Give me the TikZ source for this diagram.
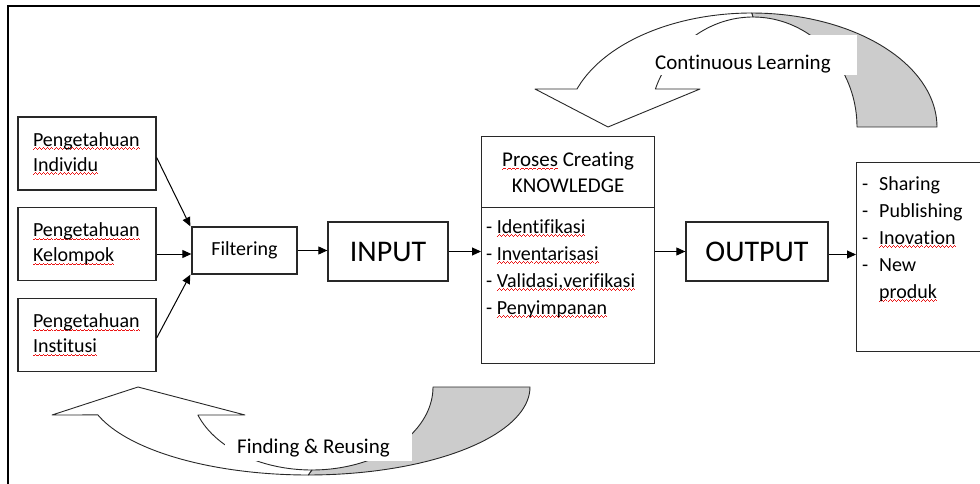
\documentclass[tikz,border=0pt]{standalone}
\usepackage{fontspec}
\setmainfont{Carlito}[Ligatures=NoCommon]
\usetikzlibrary{arrows.meta}
\newsavebox\sqbox
\newcommand\sqseg{\vrule width1pt height0.7pt depth0pt}
\newcommand\wavebit{\hbox{\sqseg\raise0.8pt\hbox{\sqseg}\raise1.6pt\hbox{\sqseg}\raise0.8pt\hbox{\sqseg}}}
\newcommand\sq[1]{\leavevmode\sbox\sqbox{#1}\rlap{\lower3.5pt\hbox to\wd\sqbox{\color{wave}\xleaders\wavebit\hfil}}\usebox\sqbox}
\definecolor{shade}{RGB}{204,204,204}
\definecolor{ink}{RGB}{40,40,40}
\definecolor{wave}{RGB}{235,20,20}
\begin{document}
\begin{tikzpicture}[x=1pt,y=-1pt,
  box/.style={draw=ink, line width=1.3pt, rectangle, inner sep=0pt},
  arr/.style={draw=black, line width=1pt, -{Triangle[length=9pt,width=8pt]}},
  curve/.style={draw=ink, line width=0.9pt, line join=round},
  every node/.style={font=\fontsize{20}{25}\selectfont, text=black},
  big/.style={font=\fontsize{30}{36}\selectfont},
  lst/.style={font=\fontsize{20}{27}\selectfont, anchor=north west, align=flush left, inner sep=0pt},
  lbl/.style={fill=white, inner ysep=0pt, align=flush left, anchor=base west, font=\fontsize{21}{25}\selectfont}
  ]
\useasboundingbox (0,0) rectangle (980,484);
% frame
\draw[line width=2.2pt] (8,484) -- (8,6) -- (981,6);

% top curved arrow (Continuous Learning)
\filldraw[curve, fill=shade]
  plot[domain=270:360, samples=40] ({753+104*cos(\x)},{127+110*sin(\x)})
  -- plot[domain=360:270, samples=40] ({751.7+185.3*cos(\x)},{127+114*sin(\x)}) -- cycle;
\filldraw[curve, fill=white]
  (535,89) -- (608,127) -- (700,89) -- (655.4,89)
  -- plot[domain=200.2:270, samples=40] ({753+104*cos(\x)},{127+110*sin(\x)})
  -- plot[domain=270:199.47, samples=40] ({751.7+185.3*cos(\x)},{127+114*sin(\x)}) -- cycle;
\node[lbl, inner xsep=7pt, text width=195pt, text height=35pt, text depth=5pt] (cl) at (648,70) {Continuous Learning};

% bottom curved arrow (Finding & Reusing)
\filldraw[curve, fill=shade]
  plot[domain=90:0, samples=40] ({311.9+121.1*cos(\x)},{387+83*sin(\x)})
  -- plot[domain=0:90, samples=40] ({308.2+221.8*cos(\x)},{387+88*sin(\x)}) -- cycle;
\filldraw[curve, fill=white]
  (52,415) -- (138,387) -- (245,415) -- (197.9,415)
  -- plot[domain=160.3:90, samples=40] ({311.9+121.1*cos(\x)},{387+83*sin(\x)})
  -- plot[domain=90:161.5, samples=40] ({308.2+221.8*cos(\x)},{387+88*sin(\x)}) -- cycle;
\node[lbl, inner xsep=12pt, text width=163pt, text height=29pt, text depth=8pt] (fr) at (225,453) {Finding \& Reusing};

% left boxes
\node[box, minimum width=138, minimum height=73, text width=108pt, inner xsep=15pt, align=flush left] (b1) at (87,153.5) {\sq{Pengetahuan}\\\sq{Individu}};
\node[box, minimum width=138, minimum height=73, text width=108pt, inner xsep=15pt, align=flush left] (b2) at (87,244) {\sq{Pengetahuan}\\\sq{Kelompok}};
\node[box, minimum width=138, minimum height=73, text width=108pt, inner xsep=15pt, align=flush left] (b3) at (87,335) {\sq{Pengetahuan}\\\sq{Institusi}};

\node[box, minimum width=105, minimum height=47] (filt) at (244.5,250.5) {Filtering};
\node[box, big, minimum width=120, minimum height=59] (inp) at (388,251.5) {INPUT};

\node[box, minimum width=173, minimum height=71, anchor=north west, align=center, font=\fontsize{21}{26}\selectfont] (ptitle) at (481,136) {\sq{Proses} Creating\\KNOWLEDGE};
\node[box, minimum width=173, minimum height=156, anchor=north west] (plist) at (481,207) {};
\node[lst] (plt) at (486,219) {- \sq{Identifikasi}\\- \sq{Inventarisasi}\\- \sq{Validasi,verifikasi}\\- \sq{Penyimpanan}};

\node[box, big, minimum width=142, minimum height=59] (outp) at (757,251.5) {OUTPUT};
\node[box, minimum width=134, minimum height=189, anchor=north west] (obox) at (856,162) {};
\node[lst] (olt) at (862,176) {\makebox[17pt][l]{-}Sharing\\\makebox[17pt][l]{-}Publishing\\\makebox[17pt][l]{-}\sq{Inovation}\\\makebox[17pt][l]{-}New\\\hspace*{17pt}\sq{produk}};

% connectors
\draw[arr] ([yshift=-4pt]b1.east) -- ([xshift=-1pt]filt.north west);
\draw[arr] ([yshift=-10pt]b2.east) -- ([yshift=-10pt]b2.east -| filt.west);
\draw[arr] ([yshift=-3pt]b3.east) -- ([xshift=-1pt]filt.south west);
\draw[arr] (filt.east) -- (filt.east -| inp.west);
\draw[arr] (inp.east) -- (inp.east -| plist.west);
\draw[arr] (outp.west -| plist.east) -- (outp.west);
\draw[arr] ([yshift=-3pt]outp.east) -- ([yshift=-3pt]outp.east -| obox.west);
\end{tikzpicture}
\end{document}
